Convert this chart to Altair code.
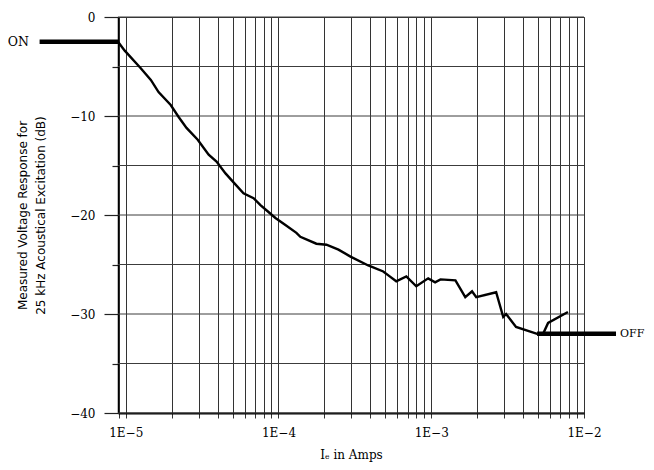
import altair as alt
import pandas as pd

# Measured curve (current in A, response in dB)
cur_x = [8.9e-6, 9.85e-6, 1.25e-5, 1.46e-5, 1.64e-5, 1.97e-5, 2.22e-5, 2.50e-5, 2.96e-5,
         3.49e-5, 3.93e-5, 4.5e-5, 5.08e-5, 5.9e-5, 6.87e-5, 7.62e-5, 8.6e-5, 9.55e-5,
         1.11e-4, 1.31e-4, 1.39e-4, 1.77e-4, 2.06e-4, 2.47e-4, 2.96e-4, 3.87e-4, 4.85e-4,
         5.24e-4, 5.9e-4, 6.87e-4, 7.98e-4, 9.55e-4, 1.06e-3, 1.15e-3, 1.44e-3, 1.67e-3,
         1.85e-3, 1.97e-3, 2.66e-3, 2.96e-3, 3.09e-3, 3.59e-3, 4.93e-3, 5.4e-3, 5.82e-3,
         7.85e-3]
cur_y = [-2.5, -3.4, -5.15, -6.36, -7.58, -8.89, -10.1, -11.2, -12.4,
         -13.9, -14.6, -15.8, -16.7, -17.8, -18.3, -19.0, -19.7, -20.3,
         -21.0, -21.8, -22.2, -22.9, -23.0, -23.5, -24.2, -25.1, -25.7,
         -26.1, -26.7, -26.2, -27.2, -26.4, -26.8, -26.5, -26.6, -28.3,
         -27.7, -28.3, -27.8, -30.3, -30.0, -31.3, -32.0, -32.0, -30.9,
         -29.8]

on_x = [2.73e-6, 8.9e-6]
on_y = [-2.5, -2.5]
off_x = [4.93e-3, 1.62e-2]
off_y = [-32.0, -32.0]

on_text = ["ON"]
on_lbl_x = [1.69e-6]
on_lbl_y = [-2.5]
off_text = ["OFF"]
off_lbl_x = [1.72e-2]
off_lbl_y = [-32.0]

x_domain = [8.9e-6, 1e-2]
y_domain = [-40, 0]
x_grid = [9e-6] + [k * 10.0 ** e for e in (-5, -4, -3) for k in range(1, 10)] + [1e-2]
y_grid = [-40, -35, -30, -25, -20, -15, -10, -5, 0]

curve = pd.DataFrame({"x": cur_x, "y": cur_y})
on_df = pd.DataFrame({"x": on_x, "y": on_y})
off_df = pd.DataFrame({"x": off_x, "y": off_y})
on_lbl = pd.DataFrame({"t": on_text, "x": on_lbl_x, "y": on_lbl_y})
off_lbl = pd.DataFrame({"t": off_text, "x": off_lbl_x, "y": off_lbl_y})
ygrid_df = pd.DataFrame({"y": y_grid})

SERIF = "DejaVu Serif"
SANS = "DejaVu Sans"

xscale = alt.Scale(type="log", domain=x_domain, nice=False)
yscale = alt.Scale(domain=y_domain, nice=False, zero=False)

label_expr = ("abs(log(datum.value)/LN10 - round(log(datum.value)/LN10)) < 1e-6 "
              "? '1E\u2212' + abs(round(log(datum.value)/LN10)) : ''")

xaxis = alt.Axis(values=x_grid, labelExpr=label_expr, grid=True, gridColor="#333333",
                 gridWidth=1, tickSize=5, tickColor="#333", domainColor="#000",
                 domainWidth=2.2, labelFont=SERIF, labelFontSize=12, labelColor="#000",
                 labelPadding=9, labelOverlap=False, labelFlush=False,
                 title="I\u2091  in  Amps", titleFont=SERIF, titleFontSize=12,
                 titleFontWeight="normal", titleColor="#000", titlePadding=11)

yaxis = alt.Axis(values=y_grid, grid=False,
                 tickColor="#222", tickWidth=1.2,
                 tickSize={"condition": {"test": "datum.value % 10 === 0", "value": 14}, "value": 6},
                 labelExpr="datum.value % 10 === 0 ? format(datum.value, 'd') : ''",
                 domainColor="#000", domainWidth=1.5,
                 labelFont=SERIF, labelFontSize=12, labelColor="#000", labelPadding=9,
                 title=["Measured  Voltage  Response  for", "25  kHz  Acoustical  Excitation  (dB)"],
                 titleFont=SANS, titleFontSize=12, titleFontWeight="normal",
                 titleColor="#000", titlePadding=22, titleLineHeight=18)

hgrid = alt.Chart(ygrid_df).mark_rule(color="#3c3c3c", strokeWidth=1).encode(
    y=alt.Y("y:Q", scale=yscale, axis=yaxis))

line = alt.Chart(curve).mark_line(color="#000", strokeWidth=2.4, clip=False).encode(
    x=alt.X("x:Q", scale=xscale, axis=xaxis),
    y=alt.Y("y:Q", scale=yscale, axis=yaxis),
    order=alt.Order("x:Q"),
)

on_line = alt.Chart(on_df).mark_line(color="#000", strokeWidth=4.5, clip=False).encode(
    x=alt.X("x:Q", scale=xscale), y=alt.Y("y:Q", scale=yscale))
off_line = alt.Chart(off_df).mark_line(color="#000", strokeWidth=4.5, clip=False).encode(
    x=alt.X("x:Q", scale=xscale), y=alt.Y("y:Q", scale=yscale))

on_label = alt.Chart(on_lbl).mark_text(align="left", baseline="middle", font=SERIF,
                                       fontSize=12.5, color="#000", clip=False).encode(
    x=alt.X("x:Q", scale=xscale), y=alt.Y("y:Q", scale=yscale), text="t:N")
off_label = alt.Chart(off_lbl).mark_text(align="left", baseline="middle", font=SERIF,
                                         fontSize=11, color="#000", clip=False).encode(
    x=alt.X("x:Q", scale=xscale), y=alt.Y("y:Q", scale=yscale), text="t:N")

chart = alt.layer(hgrid, line, on_line, off_line, on_label, off_label).properties(
    width=466, height=396,
    autosize=alt.AutoSizeParams(type="none"),
    padding={"left": 110, "top": 9, "right": 62, "bottom": 49},
    background="white",
).configure_view(stroke="#333", strokeWidth=1)

chart.save("out.html", embed_options={"renderer": "svg", "actions": False})
